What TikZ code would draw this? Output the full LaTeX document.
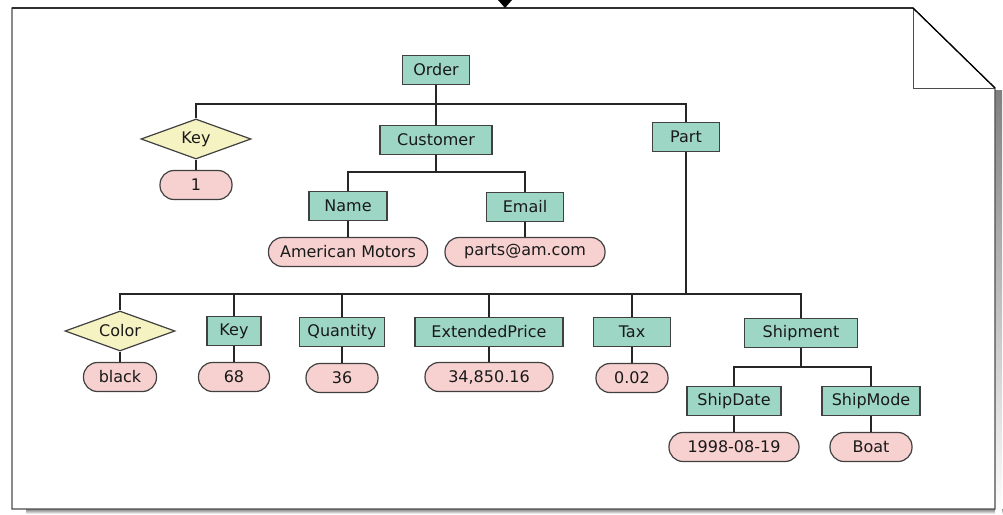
\documentclass[tikz,border=0pt]{standalone}
\usepackage{fontspec}
\setmainfont{DejaVu Sans}
\usetikzlibrary{shapes.geometric}
\definecolor{boxgreen}{RGB}{158,214,198}
\definecolor{valpink}{RGB}{247,209,208}
\definecolor{attryellow}{RGB}{246,243,195}
\definecolor{shade}{RGB}{200,200,200}
\begin{document}
\begin{tikzpicture}[x=1pt,y=-1pt,
    every node/.style={font=\fontsize{16}{19}\selectfont,text=black!90},
    elem/.style={draw=black!75,fill=boxgreen,line width=1.2pt,minimum height=29pt,inner sep=0pt},
    val/.style={draw=black!75,fill=valpink,line width=1.2pt,minimum height=29pt,inner sep=0pt,rounded corners=14pt},
    attr/.style={draw=black!75,fill=attryellow,line width=1.2pt,diamond,aspect=2.75,minimum width=110pt,minimum height=40pt,inner sep=0pt},
    link/.style={draw=black!85,line width=1.3pt}]
    \useasboundingbox (0,0) rectangle (1003,514);
    % sheet with folded corner
    \fill[shade] (26,509) rectangle (1003,514);
    \fill[shade] (995,90) rectangle (1002,514);
    \draw[black!70,line width=1.2pt,fill=white] (12,8) -- (913,8) -- (995,88) -- (995,509) -- (12,509) -- cycle;
    \draw[black!70,line width=1pt] (913,8) -- (913,88) -- (995,88);
    \draw[black,line width=1.2pt] (12,8) -- (913,8) -- (995,88);
    \fill[black] (498,0) -- (512,0) -- (505,8) -- cycle;
    % order level
    \node[elem,minimum width=67pt] (order) at (436,70) {Order};
    \node[attr] (key1) at (196,139) {Key};
    \node[val,minimum width=72pt] (one) at (196,185) {1};
    \node[elem,minimum width=112pt] (customer) at (436,140) {Customer};
    \node[elem,minimum width=67pt] (part) at (686,137) {Part};
    \coordinate (b1) at (436,104);
    \draw[link] (key1.north) |- (b1) -| (part.north);
    \draw[link] (order) -- (customer);
    \draw[link] (key1) -- (one);
    % customer
    \node[elem,minimum width=78pt] (name) at (348,206) {Name};
    \node[elem,minimum width=77pt] (email) at (525,207) {Email};
    \node[val,minimum width=159pt] (amname) at (348,252) {American Motors};
    \node[val,minimum width=160pt] (ammail) at (525,252) {parts@am.com};
    \coordinate (b2) at (436,172);
    \draw[link] (name.north) |- (b2) -| (email.north);
    \draw[link] (customer) -- (b2);
    \draw[link] (name) -- (amname);
    \draw[link] (email) -- (ammail);
    % part
    \node[attr] (color) at (120,331) {Color};
    \node[val,minimum width=73pt] (black) at (120,377) {black};
    \node[elem,minimum width=54pt] (key2) at (234,331) {Key};
    \node[val,minimum width=71pt] (sixtyeight) at (234,377) {68};
    \node[elem,minimum width=85pt] (quantity) at (342,332) {Quantity};
    \node[val,minimum width=72pt] (thirtysix) at (342,378) {36};
    \node[elem,minimum width=148pt] (extprice) at (489,332) {ExtendedPrice};
    \node[val,minimum width=128pt] (price) at (489,377) {34,850.16};
    \node[elem,minimum width=77pt] (tax) at (632,332) {Tax};
    \node[val,minimum width=72pt] (taxval) at (632,378) {0.02};
    \node[elem,minimum width=113pt] (shipment) at (801,333) {Shipment};
    \coordinate (b3) at (686,294);
    \draw[link] (part) -- (b3);
    \draw[link] (color.north) |- (b3) -| (shipment.north);
    \draw[link] (key2) -- (key2 |- b3);
    \draw[link] (quantity) -- (quantity |- b3);
    \draw[link] (extprice) -- (extprice |- b3);
    \draw[link] (tax) -- (tax |- b3);
    \draw[link] (color) -- (black);
    \draw[link] (key2) -- (sixtyeight);
    \draw[link] (quantity) -- (thirtysix);
    \draw[link] (extprice) -- (price);
    \draw[link] (tax) -- (taxval);
    % shipment
    \node[elem,minimum width=94pt] (shipdate) at (734,401) {ShipDate};
    \node[elem,minimum width=98pt] (shipmode) at (871,401) {ShipMode};
    \node[val,minimum width=130pt] (dateval) at (734,447) {1998-08-19};
    \node[val,minimum width=82pt] (boat) at (871,447) {Boat};
    \coordinate (b4) at (801,367);
    \draw[link] (shipdate.north) |- (b4) -| (shipmode.north);
    \draw[link] (shipment) -- (b4);
    \draw[link] (shipdate) -- (dateval);
    \draw[link] (shipmode) -- (boat);
\end{tikzpicture}
\end{document}
